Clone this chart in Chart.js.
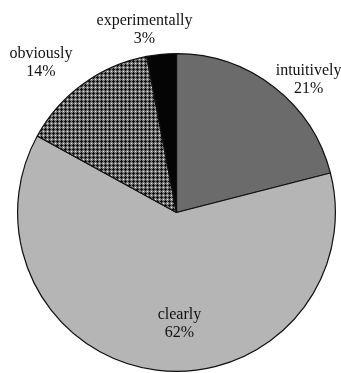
<!DOCTYPE html>
<html>
<head>
<meta charset="utf-8">
<script src="https://cdn.jsdelivr.net/npm/chart.js@4"></script>
<style>
  html, body { margin: 0; padding: 0; background: #fff; }
  #wrap { width: 341px; height: 373px; position: relative; }
</style>
</head>
<body>
<div id="wrap"><canvas id="pie"></canvas></div>
<script>
const categories = ['intuitively', 'clearly', 'obviously', 'experimentally'];
const percents = [21, 62, 14, 3];

// crosshatch fill for the "obviously" slice
function hatchPattern() {
    const c = document.createElement('canvas');
    c.width = 4; c.height = 4;
    const g = c.getContext('2d');
    g.fillStyle = '#7a7a7a';
    g.fillRect(0, 0, 4, 4);
    g.fillStyle = '#111';
    g.fillRect(1, 0, 1, 3);
    g.fillRect(0, 1, 3, 1);
    g.fillStyle = '#e8e8e8';
    g.fillRect(3, 3, 1, 1);
    return g.createPattern(c, 'repeat');
}

// label placement: radius factor and angle nudge (degrees) per slice
const labelRadius = [1.18, 0.70, 1.27, 1.17];
const labelNudge = [7, -8.7, -6.2, -4.5];

const sliceLabels = {
    id: 'sliceLabels',
    afterDatasetsDraw(chart) {
        const ctx = chart.ctx;
        const meta = chart.getDatasetMeta(0);
        ctx.save();
        ctx.font = '16px "Liberation Serif", "Times New Roman", serif';
        ctx.fillStyle = '#111';
        ctx.textAlign = 'center';
        ctx.textBaseline = 'middle';
        meta.data.forEach((arc, i) => {
            const mid = (arc.startAngle + arc.endAngle) / 2 + labelNudge[i] * Math.PI / 180;
            const r = arc.outerRadius * labelRadius[i];
            const x = arc.x + Math.cos(mid) * r;
            const y = arc.y + Math.sin(mid) * r;
            ctx.fillText(categories[i], x, y - 9);
            ctx.fillText(percents[i] + '%', x, y + 9);
        });
        ctx.restore();
    }
};

new Chart(document.getElementById('pie'), {
    type: 'pie',
    data: {
        labels: categories,
        datasets: [{
            data: percents,
            backgroundColor: ['#6b6b6b', '#b5b5b5', hatchPattern(), '#050505'],
            borderColor: '#111',
            borderWidth: 1.2
        }]
    },
    options: {
        responsive: true,
        maintainAspectRatio: false,
        animation: false,
        layout: { padding: { left: 17, right: 5, top: 53, bottom: 1 } },
        plugins: {
            legend: { display: false },
            tooltip: { enabled: false }
        }
    },
    plugins: [sliceLabels]
});
</script>
</body>
</html>
